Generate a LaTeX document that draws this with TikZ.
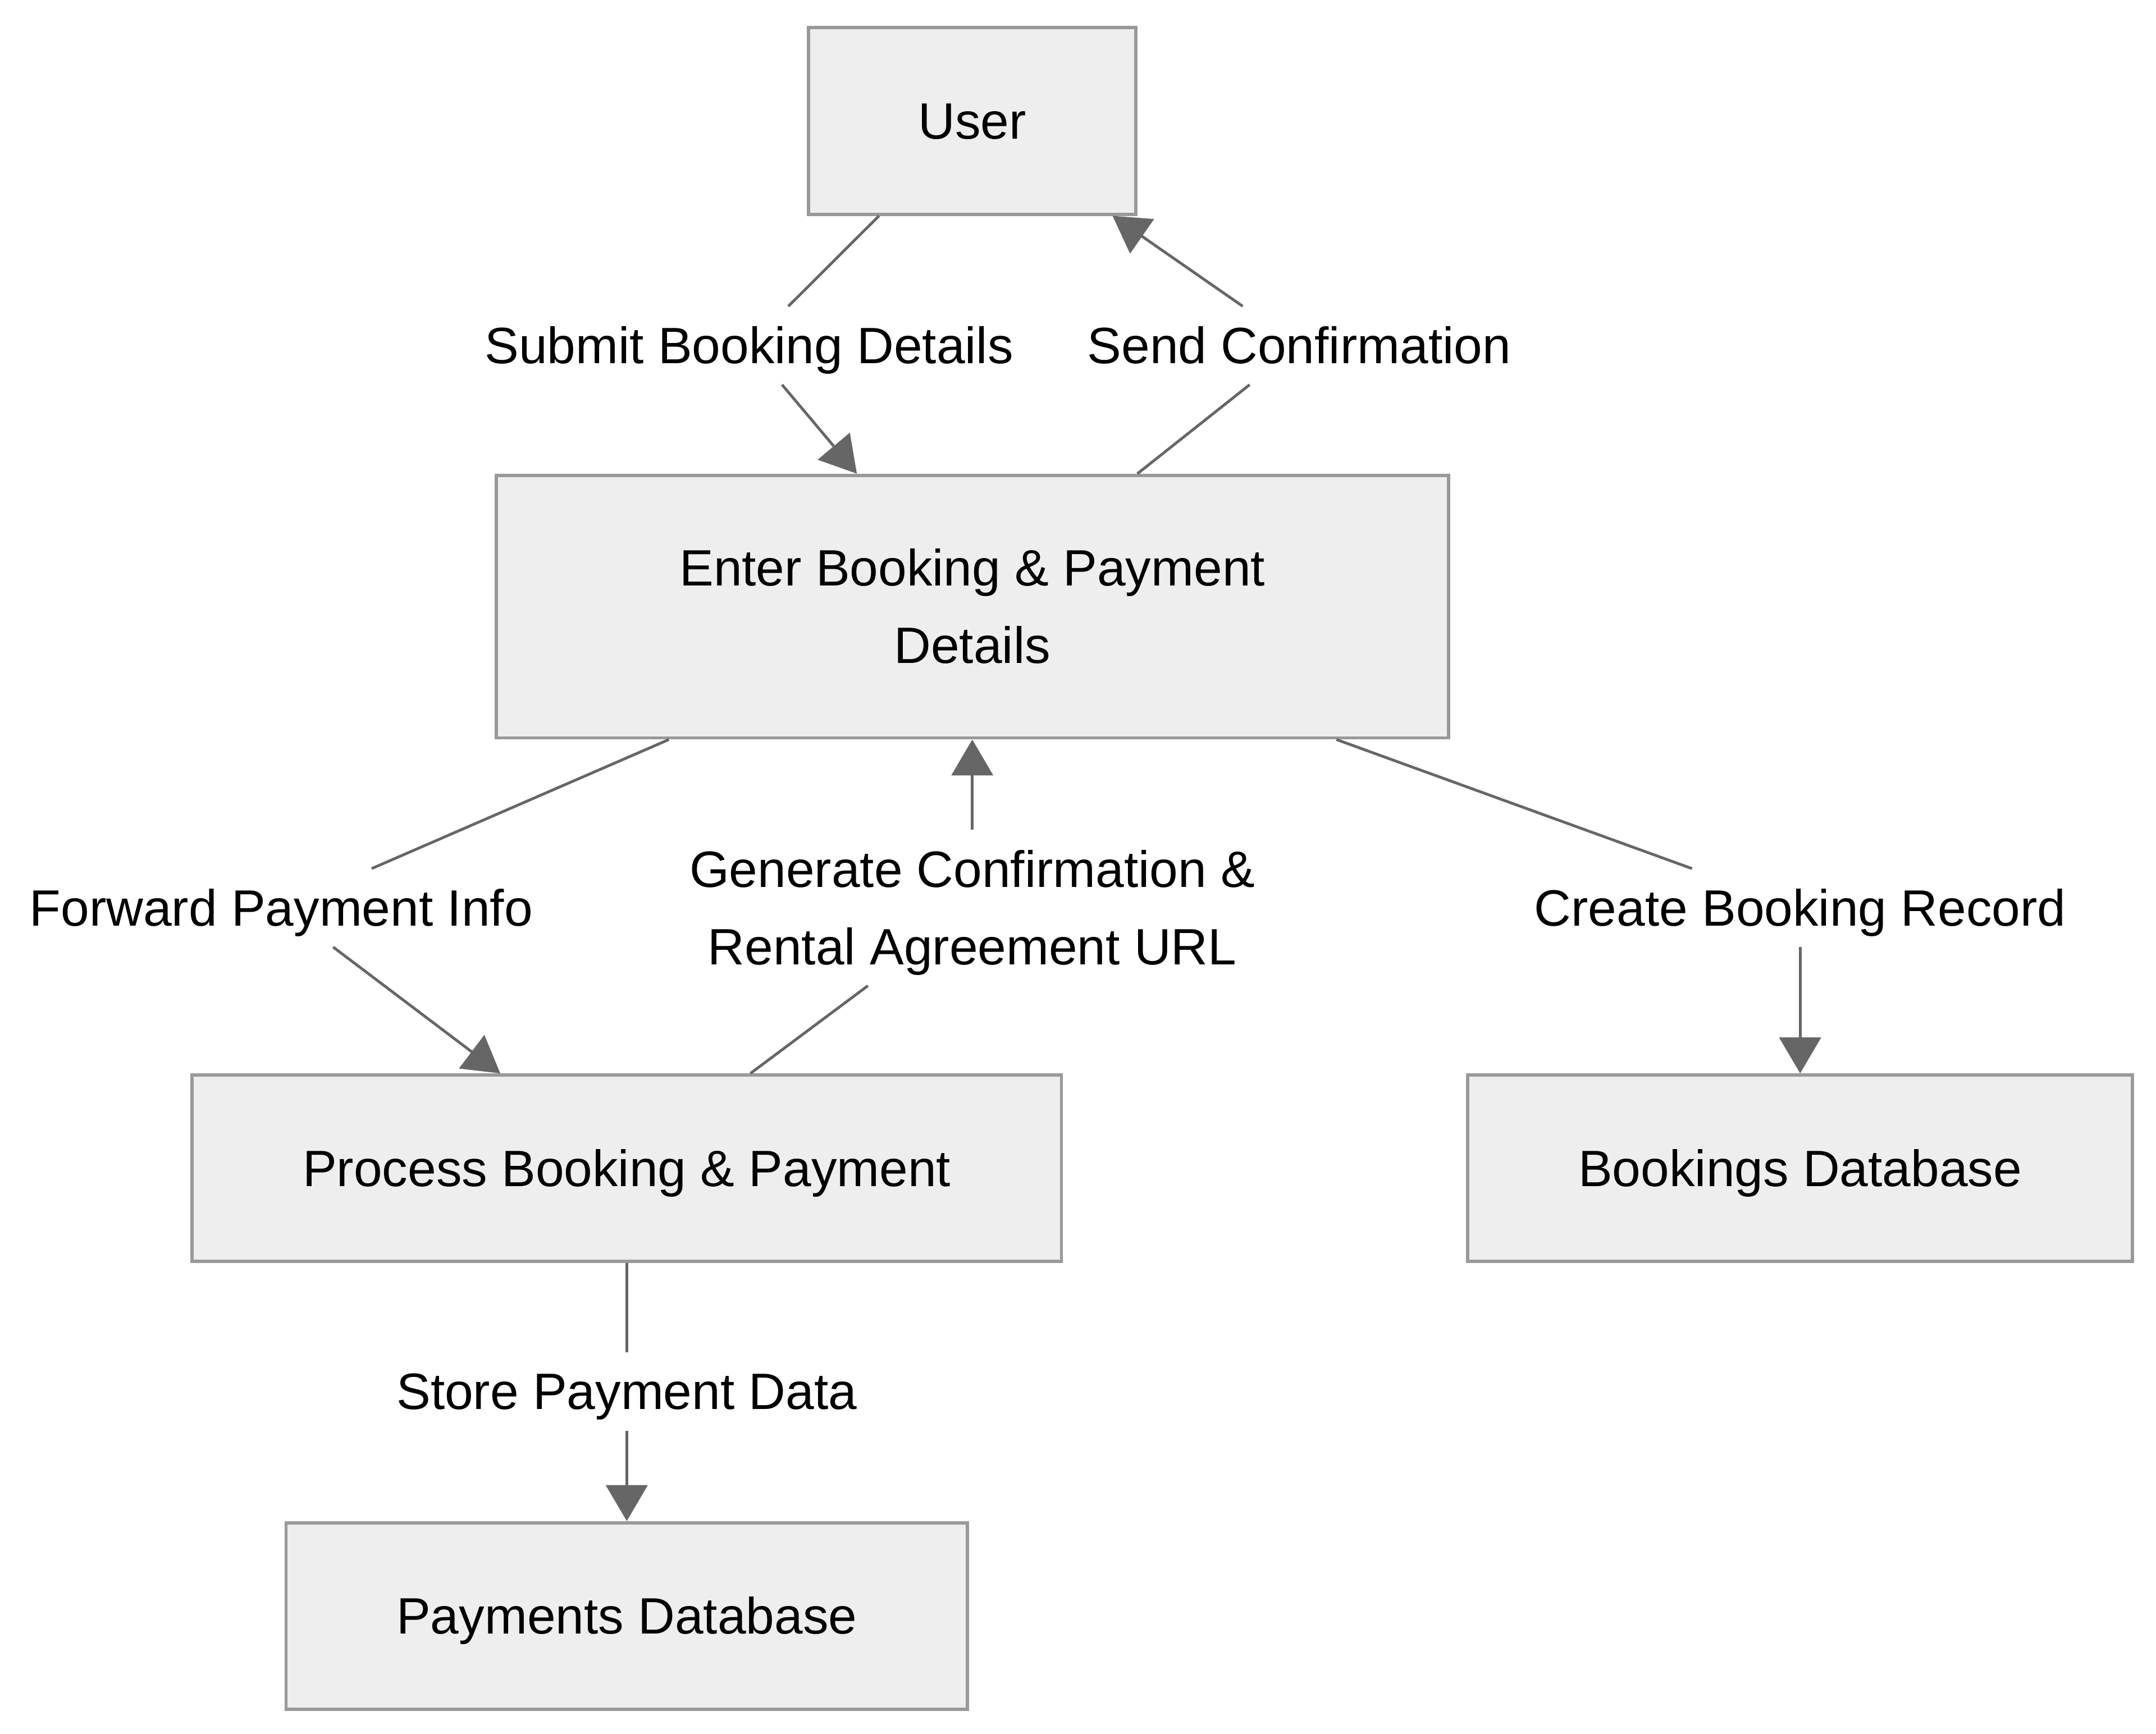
\documentclass[tikz,border=0pt]{standalone}
\usepackage{fontspec}
\setmainfont{Liberation Sans}
\usetikzlibrary{arrows.meta}
\definecolor{boxfill}{HTML}{EEEEEE}
\definecolor{boxline}{HTML}{999999}
\definecolor{edgecol}{HTML}{666666}
\begin{document}
\begin{tikzpicture}[x=0.5pt,y=-0.5pt,
  every node/.style={font=\fontsize{18.5}{28}\selectfont, text=black, text height=16pt, text depth=3pt},
  twoline/.style={text height=44pt, text depth=3pt},
  procbox/.style={draw=boxline, fill=boxfill, line width=1.2pt, inner sep=0pt, align=center},
  elabel/.style={inner sep=0pt, minimum height=28pt, align=center},
  conn/.style={draw=edgecol, line width=1pt},
  arr/.style={conn, -{Triangle[length=13pt,width=15pt]}}]
\useasboundingbox (0,0) rectangle (1560,1254.9);
% boxes
\node[procbox, minimum width=118.5pt, minimum height=67.5pt] (u) at (703.5,87.5) {User};
\node[procbox, twoline, minimum width=344.5pt, minimum height=95pt] (e) at (703.5,439) {Enter Booking \& Payment\\Details};
\node[procbox, minimum width=314.5pt, minimum height=67.5pt] (p) at (453.5,845.5) {Process Booking \& Payment};
\node[procbox, minimum width=240.5pt, minimum height=67.5pt] (b) at (1302.5,845.5) {Bookings Database};
\node[procbox, minimum width=246.5pt, minimum height=67.5pt] (pd) at (453.5,1169.5) {Payments Database};
% labels
\node[elabel] (l1) at (542,250) {Submit Booking Details};
\node[elabel] (l2) at (940,250) {Send Confirmation};
\node[elabel] (l3) at (203.5,657) {Forward Payment Info};
\node[elabel, twoline, minimum height=56pt] (l4) at (703.5,657) {Generate Confirmation \&\\Rental Agreement URL};
\node[elabel] (l5) at (1302.5,657) {Create Booking Record};
\node[elabel] (l6) at (453.5,1007) {Store Payment Data};
% connectors
\draw[conn] ([xshift=-33.75pt]u.south) -- (l1);
\draw[arr] (l1) -- ([xshift=-41.75pt]e.north);
\draw[conn] ([xshift=59.75pt]e.north) -- (l2);
\draw[arr] (l2) -- ([xshift=50.75pt]u.south);
\draw[conn] ([xshift=-109.75pt]e.south) -- (l3);
\draw[arr] (l3) -- ([xshift=-45.75pt]p.north);
\draw[conn] ([xshift=44.75pt]p.north) -- (l4);
\draw[arr] (l4) -- (e.south);
\draw[conn] ([xshift=131.75pt]e.south) -- (l5);
\draw[arr] (l5) -- (b.north);
\draw[conn] (p.south) -- (l6);
\draw[arr] (l6) -- (pd.north);
\end{tikzpicture}
\end{document}
